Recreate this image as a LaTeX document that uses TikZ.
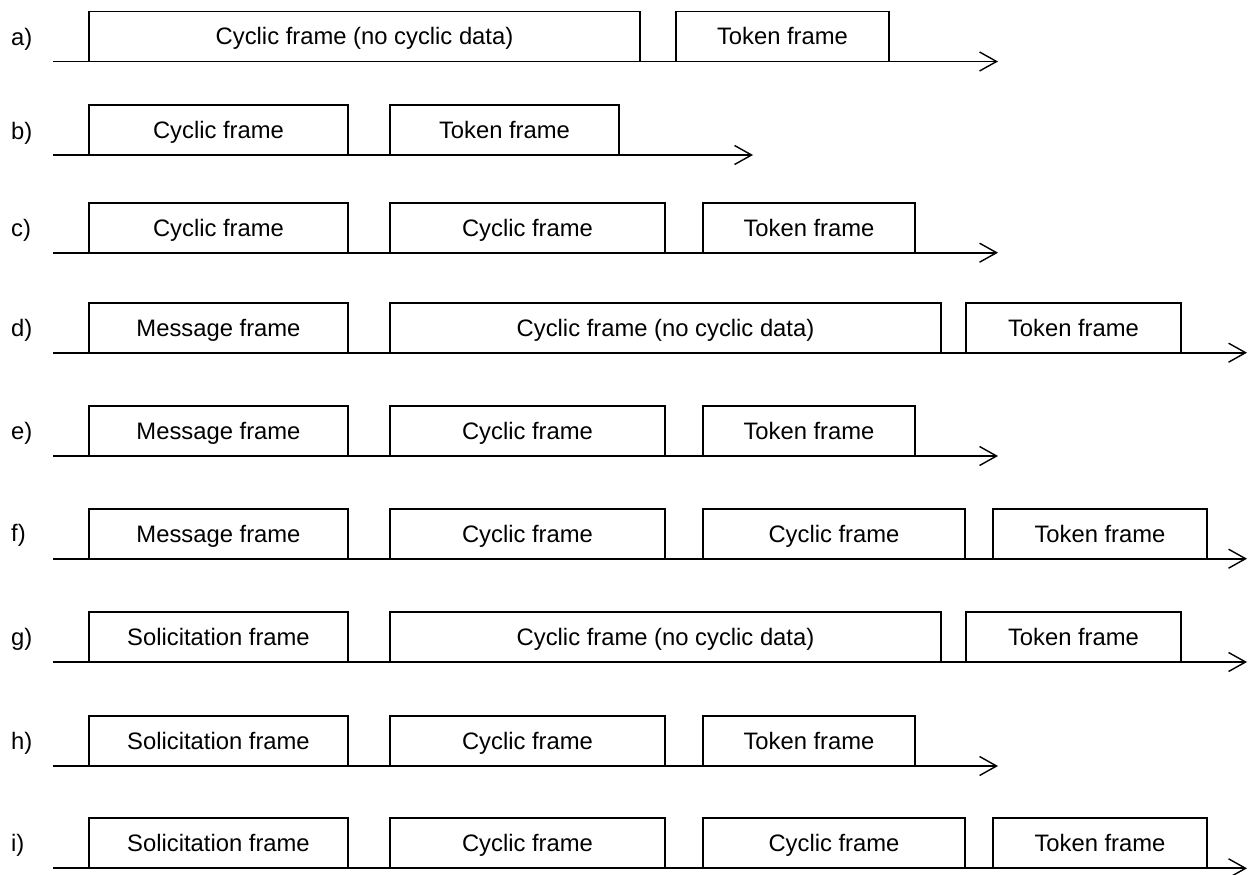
\documentclass[tikz,border=0pt]{standalone}
\usepackage{fontspec}
\setmainfont{Liberation Sans}
\usepackage{tikz}
\usetikzlibrary{arrows.meta,positioning}

\begin{document}
\begin{tikzpicture}[x=1pt,y=-1pt,
  every node/.style={font=\fontsize{23.8}{28}\selectfont, text height=17pt, text depth=0pt},
  frame/.style={draw, line width=1.8pt, fill=white, minimum height=50pt,
    inner sep=0pt, outer sep=0pt, anchor=south west},
  tag/.style={anchor=west, inner sep=0pt},
  axis/.style={line width=1.8pt, -{Straight Barb[length=17pt,width=19pt,line width=1.4pt]}}]
\useasboundingbox (0,0) rectangle (1250,875);

% a)
\node[tag] (la) at (11,37) {a)};
\coordinate (a0) at (53,61.5);
\coordinate (aend) at (998,61.5);
\draw[axis] (a0) -- (aend);
\node[frame, minimum width=551pt] (a1) at (89,61.5) {Cyclic frame (no cyclic data)};
\node[frame, minimum width=213pt] (a2) at (676,61.5) {Token frame};

% b)
\node[tag] (lb) at (11,130.5) {b)};
\coordinate (b0) at (53,155);
\coordinate (bend) at (753,155);
\draw[axis] (b0) -- (bend);
\node[frame, minimum width=259pt] (b1) at (89,155) {Cyclic frame};
\node[frame, minimum width=229pt] (b2) at (390,155) {Token frame};

% c)
\node[tag] (lc) at (11,228) {c)};
\coordinate (c0) at (53,252.7);
\coordinate (cend) at (998,252.7);
\draw[axis] (c0) -- (cend);
\node[frame, minimum width=259pt] (c1) at (89,252.7) {Cyclic frame};
\node[frame, minimum width=275pt] (c2) at (390,252.7) {Cyclic frame};
\node[frame, minimum width=212pt] (c3) at (703,252.7) {Token frame};

% d)
\node[tag] (ld) at (11,328) {d)};
\coordinate (d0) at (53,352.7);
\coordinate (dend) at (1247,352.7);
\draw[axis] (d0) -- (dend);
\node[frame, minimum width=259pt] (d1) at (89,352.7) {Message frame};
\node[frame, minimum width=551pt] (d2) at (390,352.7) {Cyclic frame (no cyclic data)};
\node[frame, minimum width=215pt] (d3) at (966,352.7) {Token frame};

% e)
\node[tag] (le) at (11,431) {e)};
\coordinate (e0) at (53,456);
\coordinate (eend) at (998,456);
\draw[axis] (e0) -- (eend);
\node[frame, minimum width=259pt] (e1) at (89,456) {Message frame};
\node[frame, minimum width=275pt] (e2) at (390,456) {Cyclic frame};
\node[frame, minimum width=212pt] (e3) at (703,456) {Token frame};

% f)
\node[tag] (lf) at (11,533) {f)};
\coordinate (f0) at (53,558.7);
\coordinate (fend) at (1247,558.7);
\draw[axis] (f0) -- (fend);
\node[frame, minimum width=259pt] (f1) at (89,558.7) {Message frame};
\node[frame, minimum width=275pt] (f2) at (390,558.7) {Cyclic frame};
\node[frame, minimum width=262pt] (f3) at (703,558.7) {Cyclic frame};
\node[frame, minimum width=214pt] (f4) at (993,558.7) {Token frame};

% g)
\node[tag] (lg) at (11,637) {g)};
\coordinate (g0) at (53,662);
\coordinate (gend) at (1247,662);
\draw[axis] (g0) -- (gend);
\node[frame, minimum width=259pt] (g1) at (89,662) {Solicitation frame};
\node[frame, minimum width=551pt] (g2) at (390,662) {Cyclic frame (no cyclic data)};
\node[frame, minimum width=215pt] (g3) at (966,662) {Token frame};

% h)
\node[tag] (lh) at (11,741) {h)};
\coordinate (h0) at (53,766);
\coordinate (hend) at (998,766);
\draw[axis] (h0) -- (hend);
\node[frame, minimum width=259pt] (h1) at (89,766) {Solicitation frame};
\node[frame, minimum width=275pt] (h2) at (390,766) {Cyclic frame};
\node[frame, minimum width=212pt] (h3) at (703,766) {Token frame};

% i)
\node[tag] (li) at (11,843) {i)};
\coordinate (i0) at (53,868.3);
\coordinate (iend) at (1247,868.3);
\draw[axis] (i0) -- (iend);
\node[frame, minimum width=259pt] (i1) at (89,868.3) {Solicitation frame};
\node[frame, minimum width=275pt] (i2) at (390,868.3) {Cyclic frame};
\node[frame, minimum width=262pt] (i3) at (703,868.3) {Cyclic frame};
\node[frame, minimum width=214pt] (i4) at (993,868.3) {Token frame};
\end{tikzpicture}
\end{document}
